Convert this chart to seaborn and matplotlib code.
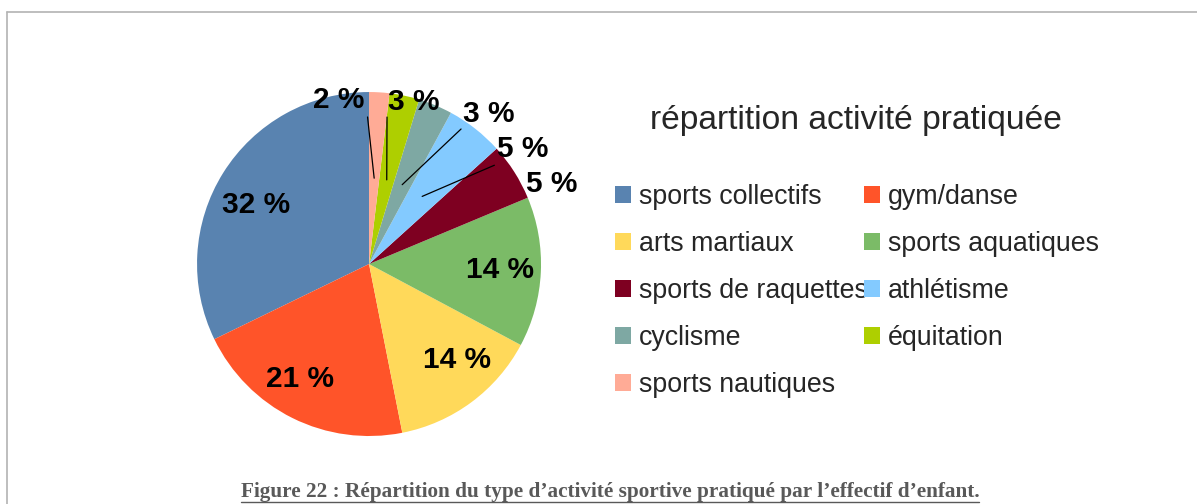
import numpy as np
import pandas as pd
import seaborn as sns
import matplotlib.pyplot as plt
from matplotlib.lines import Line2D

sns.set_style("white")
plt.rcParams['font.family'] = ['Liberation Sans', 'DejaVu Sans']

# share of each activity (%)
activities = ['sports collectifs', 'gym/danse', 'arts martiaux', 'sports aquatiques',
              'sports de raquettes', 'athlétisme', 'cyclisme', 'équitation', 'sports nautiques']
shares = [32.2, 20.9, 14.1, 14.1, 5.4, 5.4, 3.2, 2.8, 1.9]
colors = ['#5983b0', '#ff5429', '#ffd95a', '#7bbb67', '#7e0021',
          '#83caff', '#7ea8a3', '#aecf00', '#ffab96']

title = 'répartition activité pratiquée'
caption = 'Figure 22 : Répartition du type d\u2019activité sportive pratiqué par l\u2019effectif d\u2019enfant.'

df = pd.DataFrame({'activite': activities, 'part': shares})
palette = sns.color_palette(colors)

# label placement: (radius, angle shift from slice middle), leader end or None
label_layout = [(0.74, 4.5, None), (0.78, -4.4, None), (0.76, 6, None), (0.76, 0, None),
                (1.16, -8.7, None), (1.116, -15, (0.928, -13.6)), (1.114, -15.8, (0.95, -11.6)),
                (0.976, -3.7, (0.861, 4.9)), (0.97, 13.9, (0.855, 4))]

fig = plt.figure(figsize=(11.97, 5.04), dpi=100)
ax = fig.add_axes([0.1646, 0.1349, 0.2874, 0.6825])
wedges, _ = ax.pie(df['part'], colors=palette, startangle=90, counterclock=True,
                   radius=1, wedgeprops=dict(linewidth=0))
ax.set_xlim(-1, 1)
ax.set_ylim(-1, 1)
ax.set_aspect('equal')
ax.axis('off')

for w, pct, (r, dth, lead) in zip(wedges, df['part'], label_layout):
    mid = (w.theta1 + w.theta2) / 2
    a = np.deg2rad(mid + dth)
    ax.text(r * np.cos(a), r * np.sin(a), f'{pct:.0f} %', ha='center', va='center',
            fontsize=21.5, fontweight='bold', color='black', clip_on=False)
    if lead is not None:
        a0 = np.deg2rad(mid)
        a1 = np.deg2rad(mid + lead[1])
        ax.plot([0.5 * np.cos(a0), lead[0] * np.cos(a1)],
                [0.5 * np.sin(a0), lead[0] * np.sin(a1)],
                color='black', linewidth=0.9, clip_on=False)

fig.text(856 / 1197, 1 - 129 / 504, title, ha='center', va='baseline', fontsize=24.2)

# legend filled row by row like the original
order = [0, 2, 4, 6, 8, 1, 3, 5, 7]
leg = fig.legend([wedges[i] for i in order], [activities[i] for i in order], ncol=2,
                 loc='upper left', bbox_to_anchor=(615 / 1197, 1 - 184 / 504),
                 frameon=False, fontsize=19.3, handlelength=0.6, handleheight=0.6,
                 handletextpad=0.3, columnspacing=-0.14, labelspacing=0.78, borderpad=0,
                 borderaxespad=0)

# frame of the chart area (top and left edges visible)
fig.add_artist(Line2D([7 / 1197, 7 / 1197], [0, 1 - 12 / 504], color='#b3b3b3', linewidth=1.2))
fig.add_artist(Line2D([7 / 1197, 1], [1 - 12 / 504, 1 - 12 / 504], color='#b3b3b3', linewidth=1.2))

cap = fig.text(610 / 1197, 1 - 497.5 / 504, caption, ha='center', va='baseline',
               fontsize=15.35, fontweight='bold', color='#595959', family='Liberation Serif')
fig.canvas.draw()
bb = cap.get_window_extent().transformed(fig.transFigure.inverted())
yl = 1 - 501.5 / 504
fig.add_artist(Line2D([bb.x0, bb.x1], [yl, yl], color='#595959', linewidth=1))

fig.savefig('out.png', dpi=100)
